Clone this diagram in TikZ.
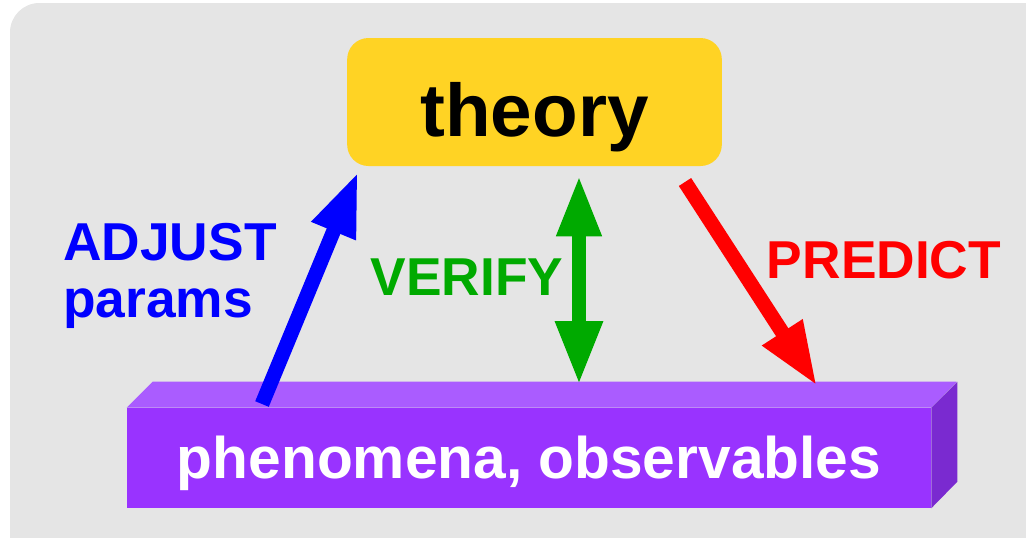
\documentclass[tikz,border=0pt]{standalone}
\usepackage{fontspec}
\setmainfont{Liberation Sans}
\usetikzlibrary{arrows.meta}
\definecolor{bggray}{HTML}{E5E5E5}
\definecolor{theoryyellow}{HTML}{FFD324}
\definecolor{phenofront}{HTML}{9933FF}
\definecolor{phenotop}{HTML}{AA5CFF}
\definecolor{phenoside}{HTML}{7A2AD0}
\definecolor{adjblue}{HTML}{0000FF}
\definecolor{verifygreen}{HTML}{00AA00}
\definecolor{predictred}{HTML}{FF0000}
\newcommand{\labelfont}{\bfseries\fontsize{40}{43}\selectfont}
\begin{document}
\begin{tikzpicture}[x=0.75pt,y=-0.75pt,
    every node/.style={inner sep=0pt},
    arr/.style={line width=11pt,-{Triangle[length=48pt,width=33pt]}},
    dblarr/.style={line width=11pt,{Triangle[length=46pt,width=31pt]}-{Triangle[length=48pt,width=33pt]}}]
  \useasboundingbox (0,0) rectangle (1026,537);
  \clip (0,0) rectangle (1026,537);
  \fill[bggray,rounded corners=22pt] (10,3) rectangle (1080,600);
  % Boxes
  \node[fill=theoryyellow,rounded corners=16pt,minimum width=281pt,minimum height=96pt,
        text height=52pt,text depth=0pt,font=\bfseries\fontsize{56}{60}\selectfont] (theory) at (534.5,102) {theory};
  \node[fill=phenofront,minimum width=603pt,minimum height=75pt,text=white,
        text height=33pt,text depth=3pt,font=\bfseries\fontsize{44}{48}\selectfont] (pheno) at (529,458) {phenomena, observables};
  \fill[phenotop] (pheno.north west) -- ++(26,-26) -- ++(804,0) -- (pheno.north east) -- cycle;
  \fill[phenoside] (pheno.north east) -- ++(26,-26) -- ++(0,100) -- (pheno.south east) -- cycle;
  % Labels
  \node[text=adjblue,font=\labelfont,align=left,anchor=north west] (adjust) at (63,223) {ADJUST\\params};
  \node[text=verifygreen,font=\labelfont,anchor=base] (verify) at (467,295) {VERIFY};
  \node[text=predictred,font=\labelfont,anchor=base] (predict) at (884,278) {PREDICT};
  % Arrows
  \coordinate (adjtail) at (262,404);
  \coordinate (adjtip) at (358,172);
  \coordinate (vertop) at (579,175);
  \coordinate (verbot) at (579,385);
  \coordinate (predtail) at (685,182);
  \coordinate (predtip) at (817,386);
  \draw[arr,adjblue] (adjtail) -- (adjtip);
  \draw[dblarr,verifygreen] (vertop) -- (verbot);
  \draw[arr,predictred] (predtail) -- (predtip);
\end{tikzpicture}
\end{document}
